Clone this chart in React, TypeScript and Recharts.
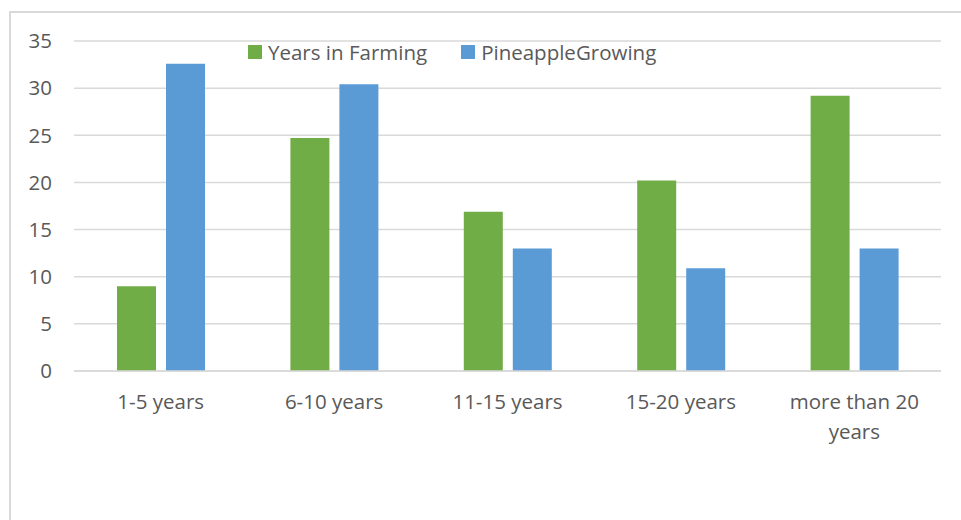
import { BarChart, Bar, XAxis, YAxis, CartesianGrid, Legend, Text } from 'recharts'

const categories = ['1-5 years', '6-10 years', '11-15 years', '15-20 years', 'more than 20 years']
const yearsInFarming = [9.0, 24.7, 16.9, 20.2, 29.2]
const pineappleGrowing = [32.6, 30.4, 13.0, 10.9, 13.0]
const yTicks = [0, 5, 10, 15, 20, 25, 30, 35]

const data = categories.map((name, i) => ({
  name,
  farming: yearsInFarming[i],
  pineapple: pineappleGrowing[i],
}))

const FONT = "'Open Sans', sans-serif"
const FONT_SIZE = 20.5
const TEXT = '#595959'
const GRID = '#d9d9d9'

const series = [
  { key: 'farming', name: 'Years in Farming', color: '#70ad47' },
  { key: 'pineapple', name: 'PineappleGrowing', color: '#5b9bd5' },
]

function CategoryTick({ x, y, payload }: any) {
  return (
    <Text
      x={x}
      y={y}
      width={140}
      textAnchor="middle"
      verticalAnchor="start"
      lineHeight={30}
      fill={TEXT}
      style={{ fontFamily: FONT, fontSize: FONT_SIZE }}
    >
      {payload.value}
    </Text>
  )
}

// keep legend entries in series order rather than alphabetical
function renderLegend({ payload }: any) {
  const items = [...payload].sort(
    (a: any, b: any) =>
      series.findIndex((s) => s.key === a.dataKey) - series.findIndex((s) => s.key === b.dataKey)
  )
  return (
    <div style={{ display: 'flex', alignItems: 'center', fontFamily: FONT, fontSize: FONT_SIZE, color: TEXT, whiteSpace: 'nowrap' }}>
      {items.map((item: any) => (
        <div key={item.value} style={{ display: 'flex', alignItems: 'center', marginRight: 34 }}>
          <span style={{ display: 'inline-block', width: 14, height: 14, background: item.color, marginRight: 6 }} />
          <span>{item.value}</span>
        </div>
      ))}
    </div>
  )
}

export default function App() {
  return (
    <div style={{ position: 'absolute', left: 0, top: 0, width: 961, height: 520, overflow: 'hidden', background: '#fff' }}>
      <div style={{ position: 'absolute', left: 9, top: 11, width: 1000, height: 1000, border: `2px solid ${GRID}` }} />
      <div style={{ position: 'absolute', left: 0, top: 0 }}>
        <BarChart
          width={961}
          height={520}
          data={data}
          margin={{ top: 41, right: 20, left: 0, bottom: 119 }}
          barSize={39}
          barGap={10}
        >
          <CartesianGrid vertical={false} stroke={GRID} strokeWidth={1.5} />
          <XAxis
            dataKey="name"
            height={30}
            interval={0}
            tickLine={false}
            axisLine={{ stroke: GRID, strokeWidth: 1.5 }}
            tickMargin={17}
            tick={<CategoryTick />}
          />
          <YAxis
            width={74}
            domain={[0, 35]}
            ticks={yTicks}
            interval={0}
            axisLine={false}
            tickLine={false}
            tickMargin={16}
            tick={{ fill: TEXT, fontSize: FONT_SIZE, fontFamily: FONT }}
          />
          <Legend
            layout="horizontal"
            verticalAlign="middle"
            align="center"
            wrapperStyle={{ top: 38, left: 248, width: 'auto' }}
            content={renderLegend}
          />
          {series.map((s) => (
            <Bar key={s.key} dataKey={s.key} name={s.name} fill={s.color} isAnimationActive={false} />
          ))}
        </BarChart>
      </div>
    </div>
  )
}
